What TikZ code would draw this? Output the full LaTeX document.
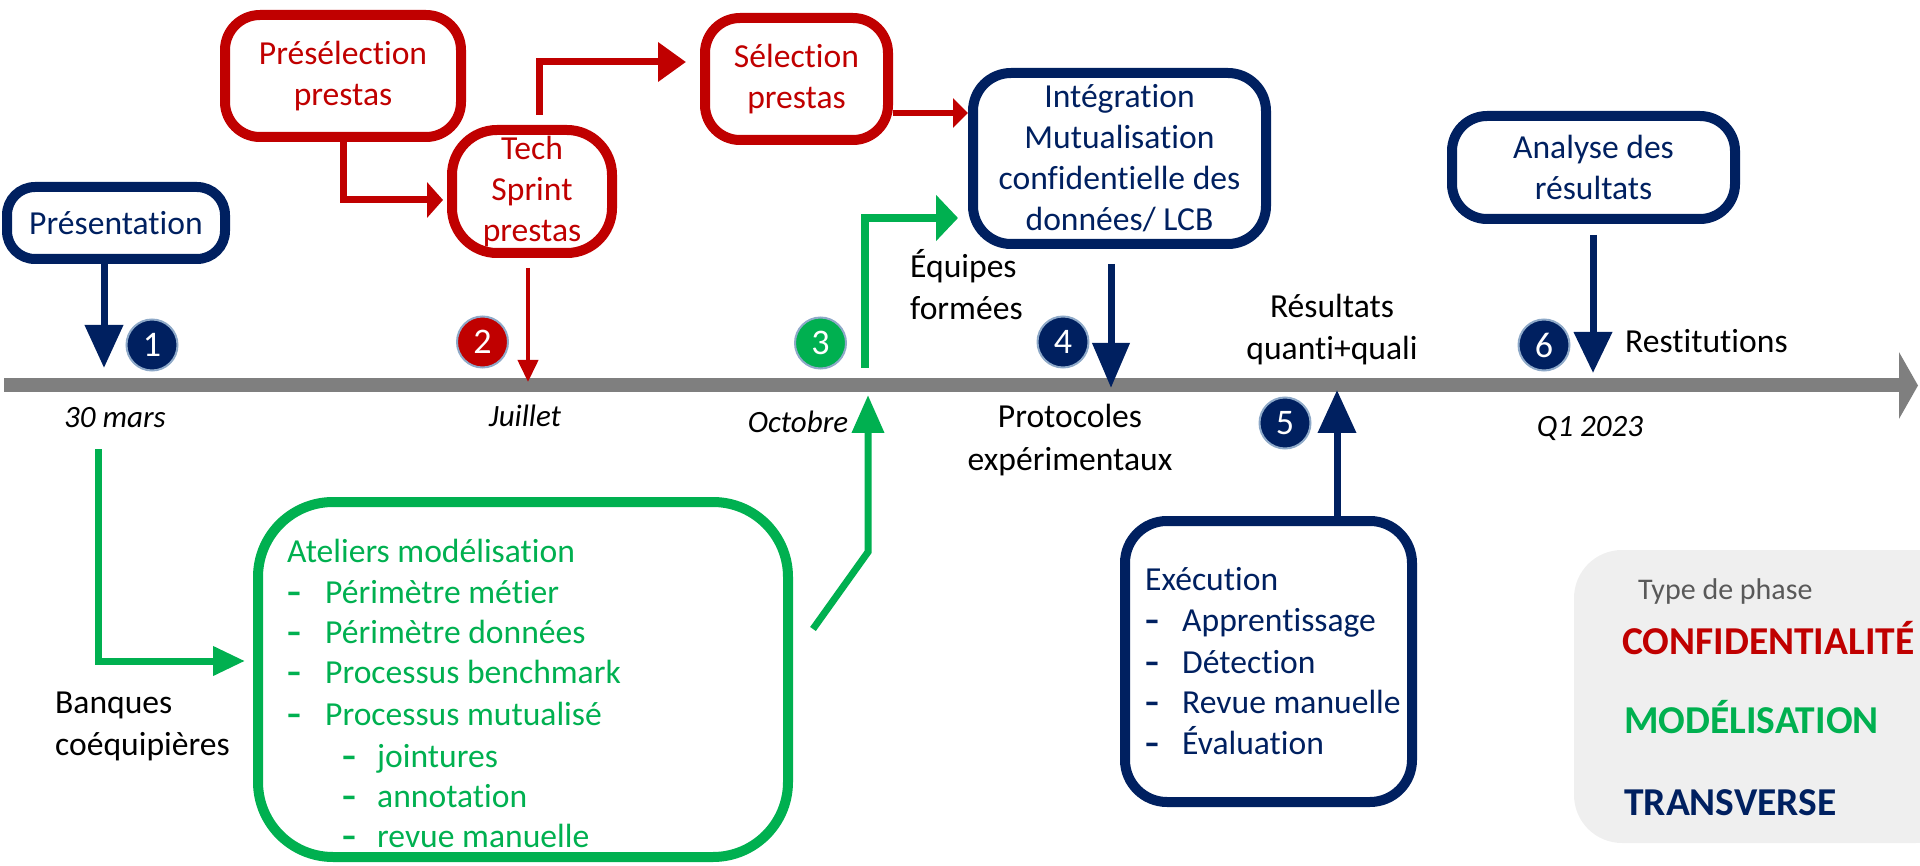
\documentclass[tikz,border=0pt]{standalone}
\usepackage{fontspec}
\setmainfont{Carlito}[Ligatures={NoCommon}]
\usetikzlibrary{arrows.meta,calc}
\definecolor{navy}{HTML}{002060}
\definecolor{crimson}{HTML}{C00000}
\definecolor{leaf}{HTML}{00B050}
\definecolor{axis}{HTML}{7F7F7F}
\definecolor{panel}{HTML}{EFEFEF}
\definecolor{halo}{HTML}{8EA9C8}
\definecolor{caption}{HTML}{595959}
% list bullet: a slightly wide dash followed by a fixed indent
\newcommand{\listdash}[1]{\makebox[#1][l]{\scalebox{1.35}[1]{\textbf{-}}}}
\begin{document}
\begin{tikzpicture}[x=1pt,y=-1pt,
  phasebox/.style={draw=#1, text=#1, line width=10pt, inner sep=0pt, align=center,
    font=\fontsize{33.6}{41}\selectfont},
  badge/.style={circle, fill=#1, draw=halo, line width=2pt, minimum size=51pt,
    inner sep=0pt, text=white, font=\fontsize{36}{40}\selectfont},
  lbl/.style={inner sep=0pt, anchor=base, font=\fontsize{33.6}{41}\selectfont},
  item/.style={inner sep=0pt, anchor=base west, font=\fontsize{33.6}{41}\selectfont},
  datelbl/.style={inner sep=0pt, anchor=base, font=\fontsize{31}{38}\selectfont\itshape},
  legword/.style={inner sep=0pt, anchor=base west, font=\fontsize{39.5}{46}\selectfont\bfseries},
]
\useasboundingbox (0,0) rectangle (1920,866);
\clip (0,0) rectangle (1920,866);

% legend panel
\node[fill=panel, rounded corners=48pt, minimum width=390pt, minimum height=293pt,
      inner sep=0pt] (legend) at (1769,696.5) {};
\node[inner sep=0pt, anchor=base west, text=caption, font=\fontsize{30}{36}\selectfont]
      (legtitle) at (1638,599) {Type de phase};
\node[legword, text=crimson] (legconf) at (1622,654) {CONFIDENTIALITÉ};
\node[legword, text=leaf] (legmod) at (1624,733) {MODÉLISATION};
\node[legword, text=navy] (legtrans) at (1624,815) {TRANSVERSE};

% time axis
\coordinate (tl0) at (4,385.5);
\coordinate (tl1) at (1918,385.5);
\draw[axis, line width=14pt, -{Triangle[length=19pt,width=66pt]}] (tl0) -- (tl1);

% milestones on the axis
\coordinate (t1) at (104,368);
\coordinate (t2) at (528,382);
\coordinate (t3) at (865,368);
\coordinate (t3b) at (868,395);
\coordinate (t4) at (1111,388);
\coordinate (t5) at (1337,390);
\coordinate (t6) at (1593,373);
\coordinate (mars) at (98,449);
\coordinate (bend) at (868,552);

% phase boxes
\node[phasebox=navy, rounded corners=28pt, minimum width=218pt, minimum height=72pt]
      (pres) at (116,223) {Présentation};
\node[phasebox=crimson, rounded corners=35pt, minimum width=236pt, minimum height=122pt]
      (presel) at (343,76) {Présélection\\prestas};
\node[phasebox=crimson, rounded corners=45pt, minimum width=160pt, minimum height=123pt]
      (tech) at (532,191.5) {Tech\\Sprint\\prestas};
\node[phasebox=crimson, rounded corners=35pt, minimum width=183pt, minimum height=122pt]
      (sel) at (796.5,79) {Sélection\\prestas};
\node[phasebox=navy, rounded corners=38pt, minimum width=293pt, minimum height=171pt]
      (integ) at (1119.5,158.5) {Intégration\\Mutualisation\\confidentielle des\\données/ LCB};
\node[phasebox=navy, rounded corners=35pt, minimum width=283pt, minimum height=103pt]
      (analyse) at (1593.5,167.5) {Analyse des\\résultats};
\node[phasebox=leaf, rounded corners=75pt, minimum width=530pt, minimum height=355pt]
      (ateliers) at (523,679.5) {};
\node[phasebox=navy, rounded corners=42pt, minimum width=287pt, minimum height=281pt]
      (exec) at (1268.5,661.5) {};

% box contents (lists)
\node[item, text=leaf] (at0) at (287,562) {Ateliers modélisation};
\node[item, text=leaf] (at1) at (287,603) {\listdash{38pt}Périmètre métier};
\node[item, text=leaf] (at2) at (287,643) {\listdash{38pt}Périmètre données};
\node[item, text=leaf] (at3) at (287,683) {\listdash{38pt}Processus benchmark};
\node[item, text=leaf] (at4) at (287,725) {\listdash{38pt}Processus mutualisé};
\node[item, text=leaf] (at5) at (342,767) {\listdash{35pt}jointures};
\node[item, text=leaf] (at6) at (342,807) {\listdash{35pt}annotation};
\node[item, text=leaf] (at7) at (342,847) {\listdash{35pt}revue manuelle};

\node[item, text=navy] (ex0) at (1145,590) {Exécution};
\node[item, text=navy] (ex1) at (1145,631) {\listdash{37pt}Apprentissage};
\node[item, text=navy] (ex2) at (1145,673) {\listdash{37pt}Détection};
\node[item, text=navy] (ex3) at (1145,713) {\listdash{37pt}Revue manuelle};
\node[item, text=navy] (ex4) at (1145,754) {\listdash{37pt}Évaluation};

% connectors
\draw[navy, line width=7pt, -{Triangle[length=43pt,width=37pt]}]
      (pres.south -| t1) -- (t1);
\draw[crimson, line width=7pt, -{Triangle[length=16pt,width=35pt]}, shorten >=4pt]
      (presel.south) |- ($(tech.west)+(0,8.5)$);
\draw[crimson, line width=7pt, -{Triangle[length=28pt,width=38pt]}]
      ($(tech.north)+(7,-10)$) |- ($(sel.west)+(-14,-17)$);
\draw[crimson, line width=4pt, -{Triangle[length=22pt,width=20pt]}]
      ($(tech.south)+(-4,10)$) -- (t2);
\draw[crimson, line width=6pt, -{Triangle[length=15pt,width=29pt]}]
      ($(sel.east)+(0,34)$) -- ($(integ.west)+(0,-45.5)$);
\draw[leaf, line width=8pt, -{Triangle[length=22pt,width=45pt]}]
      (t3) |- ($(integ.west)+(-10,59.5)$);
\draw[navy, line width=7pt, -{Triangle[length=45pt,width=36pt]}]
      ($(integ.south -| t4)+(0,15)$) -- (t4);
\draw[navy, line width=7pt, -{Triangle[length=41pt,width=37pt]}]
      ($(analyse.south -| t6)+(0,11)$) -- (t6);
\draw[navy, line width=7pt, -{Triangle[length=43pt,width=37pt]}]
      (exec.north -| t5) -- (t5);
\draw[leaf, line width=7pt, -{Triangle[length=32pt,width=28pt]}]
      (mars) |- ($(ateliers.west)+(-8,-18.5)$);
\draw[leaf, line width=7pt, -{Triangle[length=38pt,width=31pt]}]
      ($(ateliers.east)+(20,-50.5)$) -- (bend) -- (t3b);

% numbered badges
\node[badge=navy] (b1) at (152,345) {1};
\node[badge=crimson] (b2) at (482.5,342) {2};
\node[badge=leaf] (b3) at (820.5,343) {3};
\node[badge=navy] (b4) at (1063,342) {4};
\node[badge=navy] (b5) at (1285,423) {5};
\node[badge=navy] (b6) at (1544,345) {6};

% dates under the axis
\node[datelbl] (dmars) at (115,428) {30 mars};
\node[datelbl] (djuil) at (525,427) {Juillet};
\node[datelbl] (doct) at (798,433) {Octobre};
\node[datelbl] (dq1) at (1590,437) {Q1 2023};

% free labels
\node[lbl] (prot1) at (1070,428) {Protocoles};
\node[lbl] (prot2) at (1070,470) {expérimentaux};
\node[lbl] (res1) at (1332,318) {Résultats};
\node[lbl] (res2) at (1332,360) {quanti+quali};
\node[lbl, anchor=base west] (eq1) at (910,278) {Équipes};
\node[lbl, anchor=base west] (eq2) at (910,320) {formées};
\node[lbl, anchor=base west] (bq1) at (55,713) {Banques};
\node[lbl, anchor=base west] (bq2) at (55,755) {coéquipières};
\node[lbl, anchor=base west] (rest) at (1625,353) {Restitutions};
\end{tikzpicture}
\end{document}
